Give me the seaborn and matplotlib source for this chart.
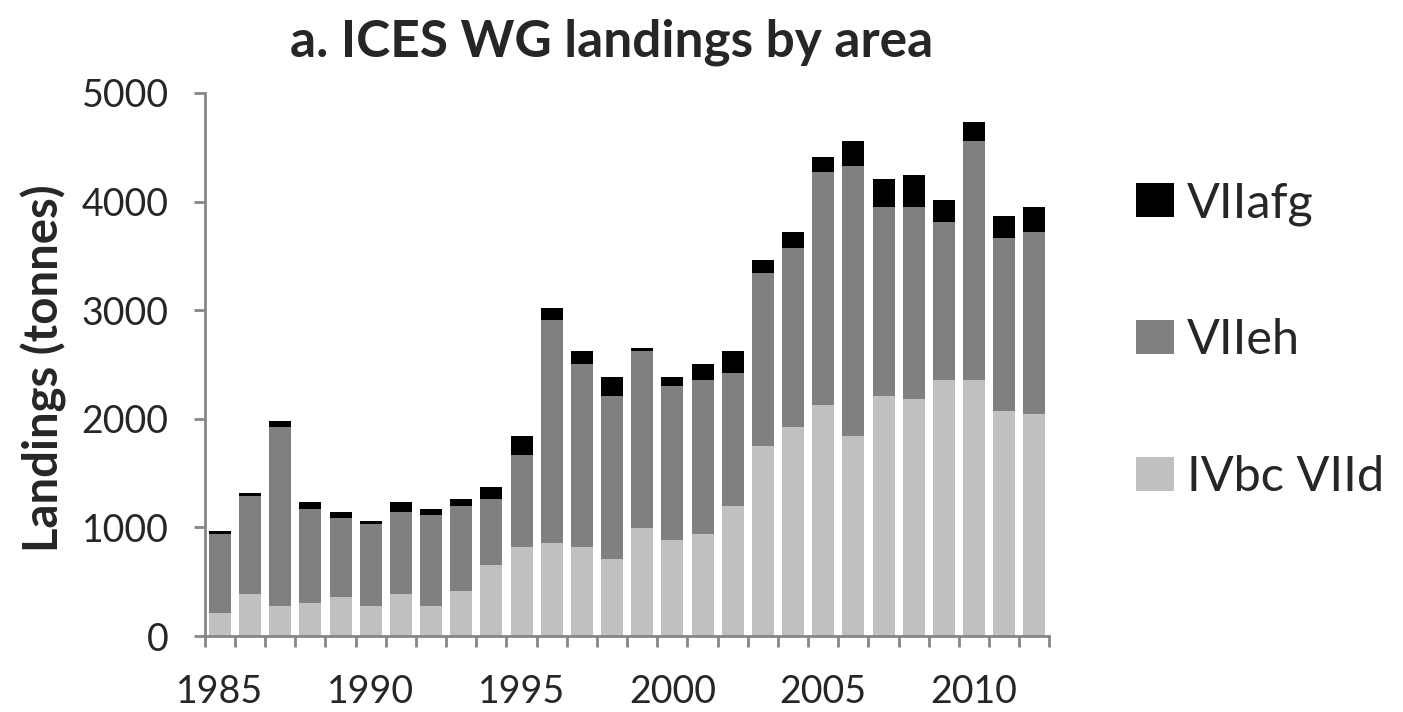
import numpy as np
import pandas as pd
import matplotlib
matplotlib.use("Agg")
import matplotlib.pyplot as plt
import seaborn as sns
from matplotlib.patches import Patch

years = list(range(1985, 2013))
ivbc_viid = [215, 390, 273, 304, 359, 273, 390, 273, 414, 651,
             822, 853, 822, 709, 997, 884, 939, 1200, 1750, 1925,
             2127, 1839, 2213, 2182, 2357, 2357, 2069, 2041]
viieh = [725, 896, 1654, 868, 728, 755, 755, 841, 786, 608,
         842, 2057, 1683, 1504, 1625, 1418, 1418, 1219, 1596, 1651,
         2146, 2492, 1737, 1768, 1452, 2204, 1596, 1679]
viiafg = [27, 31, 53, 59, 55, 28, 86, 55, 59, 116,
          175, 113, 117, 172, 27, 86, 145, 203, 113, 144,
          141, 230, 261, 292, 203, 172, 200, 230]
series_names = ["VIIafg", "VIIeh", "IVbc VIId"]
series_colors = ["#000000", "#808080", "#C0C0C0"]
yticks = [0, 1000, 2000, 3000, 4000, 5000]
xlabel_years = [1985, 1990, 1995, 2000, 2005, 2010]

sns.set_style("white")
plt.rcParams["font.family"] = ["Lato", "DejaVu Sans"]

df = pd.DataFrame({"year": years, "IVbc VIId": ivbc_viid,
                   "VIIeh": viieh, "VIIafg": viiafg})
# cumulative stack heights, drawn tallest first so each layer overlays the previous
df["top_afg"] = df["IVbc VIId"] + df["VIIeh"] + df["VIIafg"]
df["top_eh"] = df["IVbc VIId"] + df["VIIeh"]
df["top_iv"] = df["IVbc VIId"]

fig = plt.figure(figsize=(14.03, 7.12), dpi=100)
ax = fig.add_axes([0.146, 0.1067, 0.602, 0.7627])

for col, color in zip(["top_afg", "top_eh", "top_iv"], series_colors):
    sns.barplot(data=df, x="year", y=col, color=color, width=0.73,
                saturation=1, ax=ax, linewidth=0, order=years)

ax.set_xlim(-0.5, len(years) - 0.5)
ax.set_ylim(0, 5000)
ax.set_yticks(yticks)
ax.set_yticklabels([str(v) for v in yticks], fontsize=27)

pos = [years.index(y) for y in xlabel_years]
ax.set_xticks(pos)
ax.set_xticklabels([str(y) for y in xlabel_years], fontsize=27)
ax.set_xticks(np.arange(-0.5, len(years), 1.0), minor=True)
ax.tick_params(axis="x", which="major", length=0, pad=27)
ax.tick_params(axis="x", which="minor", length=8, width=2, color="#868686",
               direction="out", bottom=True)
ax.tick_params(axis="y", length=8, width=2, color="#868686",
               direction="out", left=True, pad=18)

for side in ["top", "right"]:
    ax.spines[side].set_visible(False)
for side in ["left", "bottom"]:
    ax.spines[side].set_color("#868686")
    ax.spines[side].set_linewidth(2)

ax.set_xlabel("")
ax.set_ylabel("Landings (tonnes)", fontsize=34, fontweight="bold")
ax.yaxis.set_label_coords(-0.163, 0.494)

ax.set_title("a. ICES WG landings by area", fontsize=37, fontweight="bold",
             pad=26, x=0.482)

handles = [Patch(facecolor=c, edgecolor="none") for c in series_colors]
ax.legend(handles, series_names, loc="center left",
          bbox_to_anchor=(1.08, 0.545), frameon=False, fontsize=35,
          handlelength=0.78, handleheight=0.7, handletextpad=0.25,
          labelspacing=1.9, borderaxespad=0)

fig.savefig("out.png", dpi=100)
